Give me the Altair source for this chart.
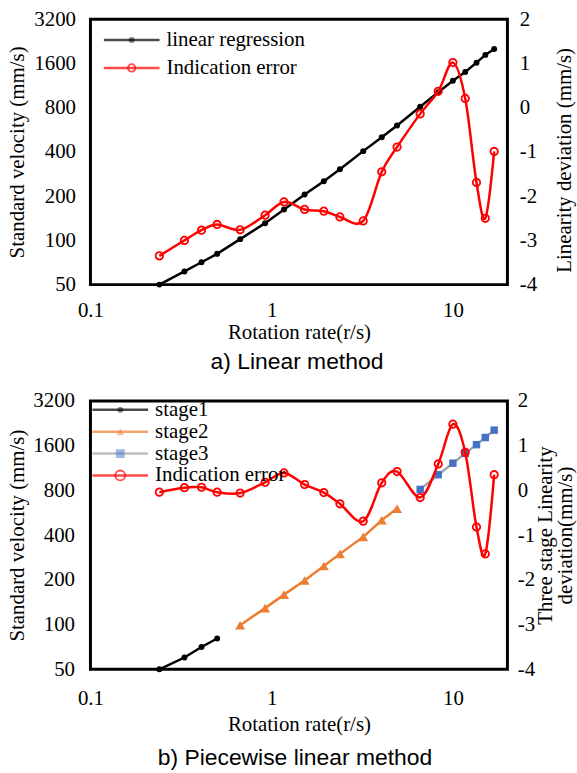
import altair as alt
import pandas as pd

SERIF = "Liberation Serif"
SANS = "Liberation Sans"

# ---------------- data ----------------
rate = [0.24, 0.33, 0.41, 0.50, 0.67, 0.92, 1.17, 1.52, 1.94, 2.38,
        3.2, 4.05, 4.92, 6.6, 8.3, 10.0, 11.7, 13.5, 15.1, 16.9]

# a) Linear method
linear_velocity = [50, 61.5, 71, 81, 102, 131, 162, 205, 253, 305,
                   405, 503, 605, 812, 1020, 1220, 1400, 1620, 1830, 2010]
linear_error = [-3.35, -3.00, -2.77, -2.64, -2.76, -2.43, -2.13, -2.30, -2.34, -2.47,
                -2.56, -1.45, -0.89, -0.14, 0.37, 1.02, 0.21, -1.69, -2.50, -0.99]

# b) Piecewise linear method
stage1_rate = [0.24, 0.33, 0.41, 0.50]
stage1_velocity = [50, 60, 70.6, 80.6]
stage2_rate = [0.67, 0.92, 1.17, 1.52, 1.94, 2.38, 3.2, 4.05, 4.92]
stage2_velocity = [99, 129, 159, 198, 248, 299, 389, 503, 603]
stage3_rate = [6.6, 8.3, 10.0, 11.7, 13.5, 15.1, 16.9]
stage3_velocity = [812, 1020, 1219, 1420, 1625, 1815, 2035]
piecewise_error = [-0.04, 0.06, 0.07, -0.04, -0.06, 0.18, 0.39, 0.13, -0.05, -0.30,
                   -0.69, 0.17, 0.42, -0.16, 0.59, 1.48, 0.85, -0.82, -1.42, 0.35]

x_ticks = [0.1, 1, 10]
velocity_ticks = [50, 100, 200, 400, 800, 1600, 3200]
error_ticks = [-4, -3, -2, -1, 0, 1, 2]

top_names = ["linear regression", "Indication error"]
bottom_names = ["stage1", "stage2", "stage3", "Indication error"]

# ---------------- styling ----------------
AX = dict(labelFont=SERIF, labelFontSize=21, labelColor="black",
          titleFont=SERIF, titleFontSize=21, titleFontWeight="normal", titleColor="black",
          ticks=False, tickSize=0, domain=False, grid=False, labelOverlap=False)

LINE_SYMBOL = "M-5.6,0H5.6"
NONSPATIAL = ["color", "fill", "stroke", "shape", "size"]


def x_enc(label_pad, title_pad):
    return alt.X("rate:Q",
                 scale=alt.Scale(type="log", domain=[0.1, 20], nice=False),
                 axis=alt.Axis(values=x_ticks, labelExpr="'' + datum.value",
                               title="Rotation rate(r/s)", labelFlush=False,
                               labelPadding=label_pad, titlePadding=title_pad, **AX))


def v_enc(label_pad, title_pad):
    return alt.Y("v:Q",
                 scale=alt.Scale(type="log", base=2, domain=[50, 3200], nice=False),
                 axis=alt.Axis(values=velocity_ticks, format="d", orient="left",
                               title="Standard velocity (mm/s)",
                               labelPadding=label_pad, titlePadding=title_pad, **AX))


def e_enc(title, label_pad, title_x, **extra):
    return alt.Y("e:Q",
                 scale=alt.Scale(domain=[-4, 2], nice=False),
                 axis=alt.Axis(values=error_ticks, labelExpr="'' + datum.value",
                               orient="right", title=title, titleAngle=270,
                               titleBaseline="top", titleX=title_x,
                               labelPadding=label_pad, **extra, **AX))


def series(rates, vals, field, xe, ye, line_color, shape, fill, stroke, size, interp="linear"):
    df = pd.DataFrame({"rate": rates, field: vals})
    base = alt.Chart(df).encode(x=xe, y=ye)
    line = base.mark_line(color=line_color, strokeWidth=2.5, interpolate=interp)
    if fill == "transparent":
        pts = base.mark_point(shape=shape, filled=False, color=stroke, size=size,
                              strokeWidth=1.8, opacity=1)
    else:
        pts = base.mark_point(shape=shape, filled=True, color=fill, size=size, opacity=1)
    return [line, pts]


def legend_layers(names, line_colors, fills, strokes, shapes, sizes, lx, ly, row_pad):
    keys = ["m%d" % i for i in range(len(names))]
    df = pd.DataFrame({"name": names, "mk": keys})
    common = dict(title=None, orient="none", legendX=lx, legendY=ly, direction="vertical",
                  labelFont=SERIF, labelFontSize=21, labelColor="black",
                  rowPadding=row_pad, padding=0, labelLimit=300, labelOffset=24.5)
    leg_lines = alt.Legend(symbolType=LINE_SYMBOL, symbolSize=100, symbolStrokeWidth=2.5,
                           **common)
    leg_marks = alt.Legend(symbolStrokeWidth=1.8, labelExpr="' '", **common)
    a = alt.Chart(df).transform_filter("false").mark_point(filled=False).encode(
        stroke=alt.Stroke("name:N", scale=alt.Scale(domain=names, range=line_colors),
                          legend=leg_lines))
    b = alt.Chart(df).transform_filter("false").mark_point(filled=False).encode(
        color=alt.Color("mk:N", scale=alt.Scale(domain=keys, range=strokes), legend=leg_marks),
        fill=alt.Fill("mk:N", scale=alt.Scale(domain=keys, range=fills), legend=leg_marks),
        shape=alt.Shape("mk:N", scale=alt.Scale(domain=keys, range=shapes), legend=leg_marks),
        size=alt.Size("mk:N", scale=alt.Scale(domain=keys, range=sizes), legend=leg_marks))
    return [a, b]


def independent(c):
    c = c.resolve_scale(x="independent", y="independent",
                        **{k: "independent" for k in NONSPATIAL})
    return c.resolve_legend(**{k: "independent" for k in NONSPATIAL})


# ---------------- a) Linear method ----------------
xa = x_enc(15, 1)
va = v_enc(15, 6.5)
ea = e_enc("Linearity deviation (mm/s)", 12, 46.5, titleY=141.5)

top_vel = alt.layer(
    *series(rate, linear_velocity, "v", xa, va, "black", "circle", "black", None, 36),
    *legend_layers(top_names, ["black", "red"], ["black", "transparent"],
                   ["transparent", "red"], ["circle", "circle"], [36, 56],
                   31, 10.5, 6),
)
top_err = alt.layer(
    *series(rate, linear_error, "e", xa, ea, "red", "circle", "transparent", "red", 56,
            interp="cardinal"),
)
top = alt.layer(top_vel, top_err).resolve_scale(y="independent").properties(
    width=419.5, height=267,
    title=alt.TitleParams("a) Linear method", orient="bottom", font=SANS, fontSize=23,
                          fontWeight="normal", color="black", offset=9,
                          frame="group", anchor="middle", dx=-2))

# ---------------- b) Piecewise linear method ----------------
xb = x_enc(18, 6)
vb = v_enc(16, 5.5)
eb = e_enc(["Three stage Linearity", "deviation(mm/s)"], 10, 27, titleLineHeight=20)

bot_vel = alt.layer(
    *series(stage1_rate, stage1_velocity, "v", xb, vb, "black", "circle", "black", None, 36),
    *series(stage2_rate, stage2_velocity, "v", xb, vb, "#ED7D31", "triangle-up", "#ED7D31", None, 100),
    *series(stage3_rate, stage3_velocity, "v", xb, vb, "#A5A5A5", "square", "#4472C4", None, 56),
    *legend_layers(bottom_names, ["black", "#ED7D31", "#A5A5A5", "red"],
                   ["black", "#ED7D31", "#4472C4", "transparent"],
                   ["transparent", "transparent", "transparent", "red"],
                   ["circle", "triangle-up", "square", "circle"], [36, 100, 56, 56],
                   19.5, -1.5, 0),
)
bot_err = alt.layer(
    *series(rate, piecewise_error, "e", xb, eb, "red", "circle", "transparent", "red", 56,
            interp="cardinal"),
)
bottom = alt.layer(bot_vel, bot_err).resolve_scale(y="independent").properties(
    width=419.5, height=270,
    title=alt.TitleParams("b) Piecewise linear method", orient="bottom", font=SANS, fontSize=23,
                          fontWeight="normal", color="black", offset=12,
                          frame="group", anchor="middle", dx=-4))

chart = independent(alt.vconcat(top, bottom, spacing=12)).configure_view(
    stroke="black", strokeWidth=3
).properties(
    padding={"left": 5, "top": 4, "right": 0, "bottom": 0},
    background="white",
)

chart.save("out.html", embed_options={"renderer": "svg", "actions": False})
